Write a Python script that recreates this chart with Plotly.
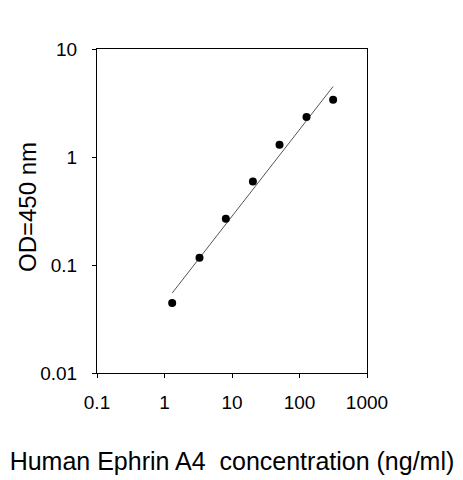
import plotly.graph_objects as go

# standard curve points
conc = [1.3, 3.3, 8.1, 20.4, 50.6, 127, 315]
od = [0.0445, 0.117, 0.268, 0.594, 1.30, 2.35, 3.39]

# ends of the fitted line
fit_x = [1.3, 315]
fit_y = [0.055, 4.5]

x_ticks = [0.1, 1, 10, 100, 1000]
x_labels = ["0.1", "1", "10", "100", "1000"]
y_ticks = [0.01, 0.1, 1, 10]
y_labels = ["0.01", "0.1", "1", "10"]

fnt = "Liberation Sans, Arial, sans-serif"

fig = go.Figure()
fig.add_trace(go.Scatter(x=fit_x, y=fit_y, mode="lines",
                         line=dict(color="#555555", width=1), showlegend=False))
fig.add_trace(go.Scatter(x=conc, y=od, mode="markers",
                         marker=dict(color="black", size=8), showlegend=False))

fig.update_xaxes(type="log", range=[-1, 3], tickvals=x_ticks, ticktext=x_labels,
                 showgrid=False, zeroline=False, showline=True, mirror=True,
                 linecolor="black", linewidth=1, ticks="outside", ticklen=4,
                 tickcolor="black", ticklabelstandoff=8, automargin=False,
                 tickfont=dict(family=fnt, size=19, color="black"),
                 title=dict(text="Human Ephrin A4  concentration (ng/ml)", standoff=40,
                            font=dict(family=fnt, size=25, color="black")))
fig.update_yaxes(type="log", range=[-2, 1], tickvals=y_ticks, ticktext=y_labels,
                 showgrid=False, zeroline=False, showline=True, mirror=True,
                 linecolor="black", linewidth=1, ticks="outside", ticklen=4,
                 tickcolor="black", ticklabelstandoff=11, automargin=False,
                 tickfont=dict(family=fnt, size=19, color="black"))

# y title as a rotated annotation so it can sit a bit closer to the labels
fig.add_annotation(text="OD=450 nm", textangle=-90, x=0, y=0.5, xref="paper", yref="paper",
                   xanchor="center", yanchor="middle", xshift=-70, yshift=4,
                   showarrow=False, font=dict(family=fnt, size=24, color="black"))

# page body has an 8px margin, so the figure is a bit smaller than the window
fig.update_layout(width=455, height=472, plot_bgcolor="white", paper_bgcolor="white",
                  margin=dict(l=89, r=96, t=41, b=107))

fig.write_html("out.html")
